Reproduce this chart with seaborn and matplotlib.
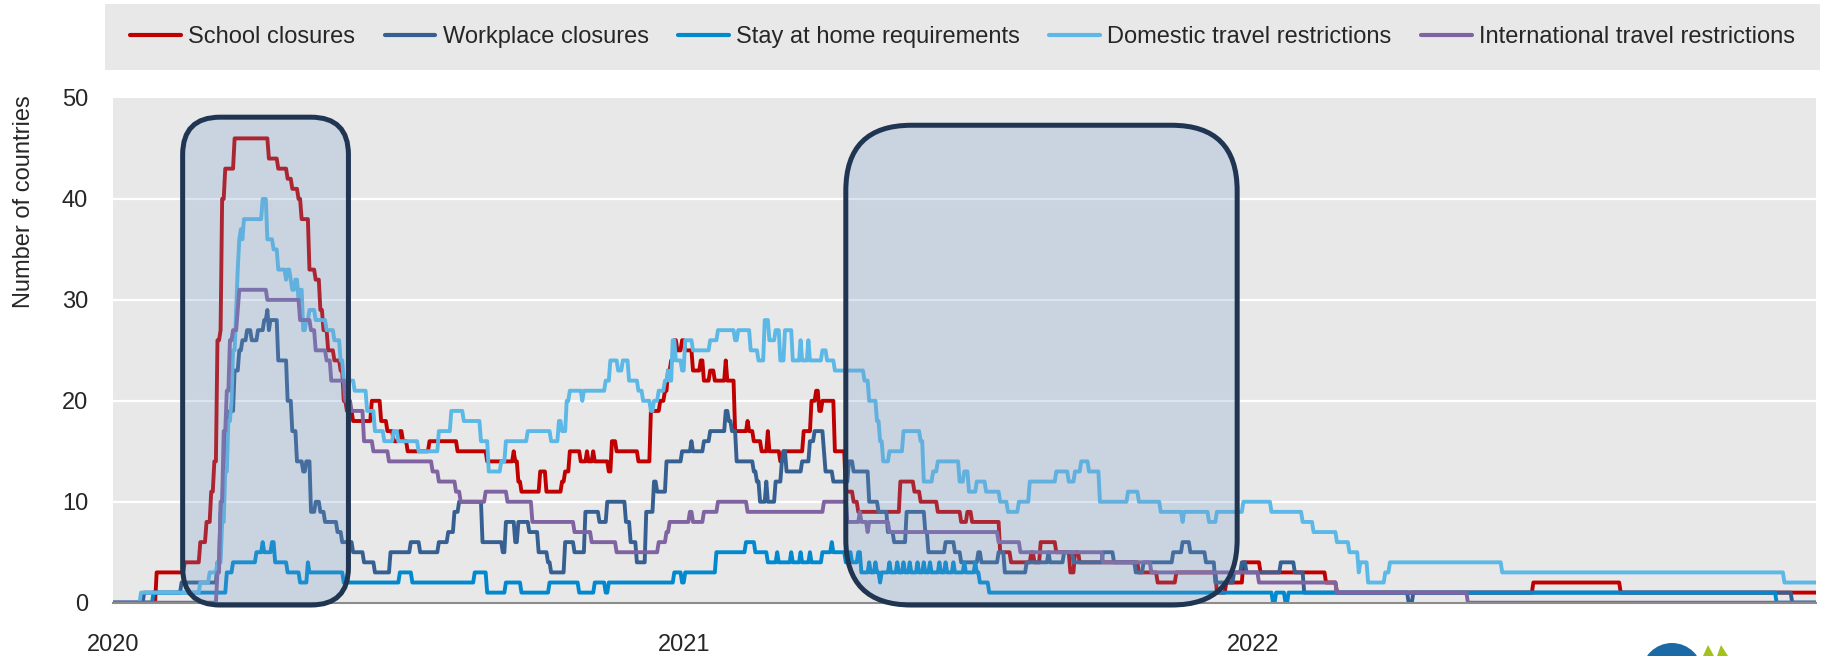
import numpy as np
import pandas as pd
import matplotlib
matplotlib.use("Agg")
import matplotlib.pyplot as plt
import matplotlib.dates as mdates
from matplotlib import font_manager
from matplotlib.lines import Line2D
from matplotlib.patches import FancyBboxPatch, Rectangle, Circle, Polygon
from matplotlib.transforms import IdentityTransform
import seaborn as sns

# ---------------------------------------------------------
# Data: (days since 2020-01-01, number of countries) change points
# ---------------------------------------------------------
START = pd.Timestamp("2020-01-01")

school = [
    (0, 0), (28, 3), (46, 4), (56, 6), (60, 8), (63, 11), (65, 14), (67, 26), (69, 27), (70, 40),
    (72, 43), (78, 46), (100, 44), (106, 43), (112, 42), (115, 41), (119, 40), (121, 38), (126, 33), (130, 32),
    (133, 29), (135, 27), (138, 25), (142, 24), (146, 23), (148, 20), (150, 19), (154, 18), (166, 20), (172, 18),
    (176, 17), (180, 16), (184, 17), (186, 16), (189, 15), (203, 16), (221, 15), (240, 14), (257, 15), (258, 14),
    (260, 12), (262, 11), (274, 13), (278, 11), (288, 12), (290, 13), (293, 15), (300, 14), (304, 15), (305, 14),
    (308, 15), (309, 14), (318, 13), (320, 16), (323, 15), (337, 14), (345, 19), (351, 20), (354, 21), (356, 23),
    (358, 24), (360, 26), (362, 25), (365, 26), (367, 25), (372, 23), (377, 24), (379, 22), (383, 23), (386, 22),
    (393, 24), (394, 22), (399, 17), (407, 18), (408, 17), (411, 16), (416, 15), (420, 17), (421, 15), (428, 14),
    (430, 15), (443, 17), (448, 20), (451, 21), (453, 19), (455, 20), (463, 15), (470, 11), (475, 10), (478, 9),
    (505, 12), (514, 11), (518, 10), (529, 9), (544, 8), (548, 9), (551, 8), (569, 5), (576, 4), (589, 5),
    (591, 4), (595, 6), (605, 5), (614, 3), (617, 5), (620, 4), (658, 3), (670, 2), (682, 3), (708, 1),
    (714, 2), (725, 4), (736, 3), (778, 2), (785, 1), (911, 2), (967, 1), (1095, 1),
]

workplace = [
    (0, 0), (20, 1), (44, 2), (67, 4), (69, 9), (71, 14), (73, 18), (75, 19), (78, 23), (81, 25),
    (83, 26), (86, 27), (89, 26), (93, 27), (97, 28), (99, 29), (100, 27), (101, 28), (106, 24), (112, 20),
    (115, 17), (118, 14), (122, 13), (124, 14), (127, 9), (130, 10), (133, 9), (136, 8), (144, 7), (147, 6),
    (154, 5), (161, 4), (168, 3), (178, 5), (191, 6), (197, 5), (209, 6), (215, 7), (219, 9), (222, 10),
    (237, 6), (250, 5), (252, 8), (258, 6), (260, 8), (267, 7), (273, 5), (279, 4), (281, 3), (290, 6),
    (296, 5), (303, 9), (312, 8), (317, 10), (329, 8), (332, 6), (336, 4), (342, 9), (347, 12), (349, 11),
    (355, 14), (365, 15), (371, 16), (372, 15), (379, 16), (383, 17), (393, 19), (395, 18), (397, 17), (400, 14),
    (411, 13), (413, 12), (415, 10), (419, 12), (420, 10), (425, 12), (429, 14), (430, 15), (432, 13), (442, 14),
    (447, 16), (450, 17), (456, 15), (457, 13), (462, 12), (472, 14), (475, 13), (485, 10), (491, 9), (497, 7),
    (501, 6), (509, 9), (521, 7), (523, 5), (534, 6), (540, 5), (544, 4), (555, 5), (557, 4), (568, 5),
    (572, 3), (586, 4), (600, 5), (601, 4), (610, 5), (616, 4), (635, 5), (642, 4), (656, 3), (661, 4),
    (680, 5), (686, 6), (691, 5), (701, 4), (707, 2), (719, 3), (724, 4), (727, 3), (749, 4), (758, 3),
    (764, 1), (831, 0), (834, 1), (1077, 0), (1095, 0),
]

stay_home = [
    (0, 0), (26, 1), (73, 3), (77, 4), (92, 5), (96, 6), (97, 5), (102, 6), (104, 4), (112, 3),
    (120, 2), (125, 4), (126, 3), (148, 2), (184, 3), (192, 2), (232, 3), (240, 1), (252, 2), (262, 1),
    (280, 2), (299, 1), (309, 2), (316, 1), (318, 2), (360, 3), (365, 2), (367, 3), (387, 5), (406, 6),
    (412, 5), (420, 4), (426, 5), (427, 4), (435, 5), (436, 4), (441, 5), (442, 4), (447, 5), (448, 4),
    (455, 5), (461, 6), (462, 5), (470, 4), (472, 5), (474, 4), (478, 5), (480, 3), (485, 4), (486, 3),
    (489, 4), (490, 3), (492, 2), (493, 3), (498, 4), (499, 3), (503, 4), (504, 3), (507, 4), (508, 3),
    (511, 4), (512, 3), (516, 4), (517, 3), (520, 4), (521, 3), (524, 4), (525, 3), (530, 4), (531, 3),
    (534, 4), (535, 3), (539, 4), (540, 3), (546, 4), (547, 3), (553, 4), (554, 3), (556, 2), (562, 1),
    (744, 0), (746, 1), (752, 0), (754, 1), (1067, 0), (1095, 0),
]

domestic = [
    (0, 0), (18, 1), (56, 2), (62, 3), (67, 4), (70, 8), (72, 13), (74, 18), (76, 20), (77, 25),
    (79, 29), (80, 33), (81, 36), (82, 37), (83, 36), (84, 38), (96, 40), (99, 36), (103, 35), (106, 33),
    (111, 32), (112, 33), (114, 32), (115, 31), (117, 32), (119, 30), (120, 31), (122, 27), (124, 28), (126, 29),
    (130, 28), (137, 27), (142, 26), (146, 24), (148, 22), (155, 21), (163, 19), (168, 17), (174, 16), (180, 17),
    (183, 16), (196, 15), (209, 17), (217, 19), (225, 18), (236, 16), (241, 13), (249, 14), (252, 16), (266, 17),
    (281, 16), (286, 18), (288, 17), (291, 20), (293, 21), (301, 20), (302, 21), (316, 22), (319, 24), (324, 23),
    (327, 24), (331, 22), (337, 21), (340, 20), (345, 19), (347, 20), (350, 21), (354, 22), (356, 23), (357, 22),
    (359, 26), (361, 24), (365, 23), (367, 26), (372, 25), (383, 26), (388, 27), (399, 26), (401, 27), (409, 25),
    (414, 24), (418, 28), (421, 26), (425, 27), (428, 24), (431, 27), (436, 24), (441, 26), (442, 24), (446, 26),
    (447, 24), (455, 25), (458, 24), (463, 23), (482, 22), (485, 20), (490, 18), (492, 16), (494, 14), (498, 15),
    (507, 17), (518, 16), (520, 12), (526, 13), (529, 14), (543, 12), (546, 13), (549, 11), (554, 12), (560, 11),
    (569, 10), (574, 9), (581, 10), (588, 12), (605, 13), (613, 12), (617, 13), (621, 14), (626, 13), (633, 10),
    (651, 11), (658, 10), (672, 9), (686, 8), (687, 9), (703, 8), (708, 9), (725, 10), (743, 9), (763, 8),
    (770, 7), (785, 6), (793, 5), (799, 3), (800, 4), (805, 2), (816, 3), (819, 4), (891, 3), (1072, 2),
    (1095, 2),
]

international = [
    (0, 0), (66, 0), (67, 3), (69, 10), (71, 17), (73, 21), (75, 26), (77, 27), (80, 29), (81, 31),
    (99, 30), (120, 28), (127, 27), (130, 25), (137, 24), (140, 22), (149, 20), (153, 19), (161, 16), (167, 15),
    (177, 14), (205, 13), (209, 12), (220, 11), (223, 10), (239, 11), (253, 10), (269, 8), (296, 7), (307, 6),
    (323, 5), (350, 6), (355, 7), (357, 8), (370, 9), (372, 8), (379, 9), (388, 10), (407, 9), (456, 10),
    (471, 8), (479, 9), (480, 8), (484, 7), (485, 8), (498, 7), (568, 6), (582, 5), (635, 4), (666, 3),
    (735, 2), (785, 1), (869, 0), (1095, 0),
]

measures = ["School closures", "Workplace closures", "Stay at home requirements",
            "Domestic travel restrictions", "International travel restrictions"]
colors = ["#C00000", "#376092", "#0089CF", "#5CB8E6", "#8064A2"]
year_ticks = ["2020-01-01", "2021-01-01", "2022-01-01"]
year_labels = ["2020", "2021", "2022"]

# highlighted periods: start, end, top value, corner radius in days
highlights = [("2020-02-14 16:00", "2020-05-31", 48.1, 24),
              ("2021-04-15", "2021-12-22", 47.3, 42)]


def daily(points):
    # turn change points into a daily step series
    days, vals = zip(*points)
    s = pd.Series(vals, index=list(days), dtype=float)
    s = s.reindex(range(days[-1] + 1)).ffill()
    s.index = START + pd.to_timedelta(s.index, unit="D")
    return s


frames = []
for name, pts in zip(measures, [school, workplace, stay_home, domestic, international]):
    s = daily(pts)
    frames.append(pd.DataFrame({"date": s.index, "countries": s.values, "measure": name}))
df = pd.concat(frames, ignore_index=True)

# ---------------------------------------------------------
# Style
# ---------------------------------------------------------
sns.set_style("white")
names = {f.name for f in font_manager.fontManager.ttflist}
if "Liberation Sans Narrow" in names:
    FONT, FS = "Liberation Sans Narrow", 20.5
else:
    FONT, FS = "Liberation Sans", 17
plt.rcParams["font.family"] = [FONT, "DejaVu Sans"]

W, H = 1825, 656
fig = plt.figure(figsize=(W / 100, H / 100), dpi=100)
ax = fig.add_axes([113 / W, 1 - 602.7 / H, (1816 - 113) / W, (602.7 - 98) / H])
ax.set_facecolor("#E8E8E8")

sns.lineplot(data=df, x="date", y="countries", hue="measure", hue_order=measures,
             palette=colors, estimator=None, linewidth=2.8, legend=False, ax=ax, zorder=3)

ax.set(xlabel="", ylabel="")
ax.set_ylim(0, 50)
ax.set_xlim(pd.Timestamp("2020-01-01"), pd.Timestamp("2022-12-28 06:00"))
for y in [10, 20, 30, 40]:
    ax.axhline(y, color="white", lw=1.6, zorder=1)
ax.set_yticks(range(0, 51, 10))
ax.set_xticks([pd.Timestamp(t) for t in year_ticks])
ax.set_xticklabels(year_labels)
ax.tick_params(axis="y", length=0, pad=18, labelsize=FS)
ax.tick_params(axis="x", direction="in", length=6, width=1.5, color="#8C8C8C", pad=22.5, labelsize=FS)
for side in ["left", "top", "right"]:
    ax.spines[side].set_visible(False)
ax.spines["bottom"].set_color("#8C8C8C")
ax.spines["bottom"].set_linewidth(1.5)
ax.spines["bottom"].set_zorder(4)

fig.text(24 / W, 1 - 95 / H, "Number of countries", rotation=90, ha="center", va="top", fontsize=FS)

# ---------------------------------------------------------
# Highlight boxes (rounded, drawn over the lines)
# ---------------------------------------------------------
x0n = mdates.date2num(pd.Timestamp("2020-01-01"))
p0 = ax.transData.transform((x0n, 0))
p1 = ax.transData.transform((x0n + 1, 1))
aspect = (p1[0] - p0[0]) / (p1[1] - p0[1])
for start, end, top, radius in highlights:
    xs = mdates.date2num(pd.Timestamp(start))
    xe = mdates.date2num(pd.Timestamp(end))
    box = FancyBboxPatch((xs, -0.23), xe - xs, top + 0.23,
                         boxstyle=f"round,pad=0,rounding_size={radius}",
                         mutation_aspect=aspect, facecolor=(0.44, 0.60, 0.79, 0.25),
                         edgecolor="#1F3552", linewidth=3.6, zorder=6, clip_on=False)
    ax.add_patch(box)

# ---------------------------------------------------------
# Legend on a grey band
# ---------------------------------------------------------
fig.add_artist(Rectangle((105 / W, 1 - 70 / H), 1715 / W, 66 / H, transform=fig.transFigure,
                         facecolor="#E8E8E8", edgecolor="none", zorder=0))
handles = [Line2D([], [], color=c, lw=3) for c in colors]
fig.legend(handles, measures, ncol=5, frameon=False, loc="center",
           bbox_to_anchor=((105 + 1820) / 2 / W, 1 - 37 / H), fontsize=FS,
           handlelength=2.15, handletextpad=0.3, columnspacing=1.25, borderaxespad=0)

# partly visible logo in the corner
fig.add_artist(Circle((1672, H - 673.5), 30.5, transform=IdentityTransform(),
                      facecolor="#1B6AA5", edgecolor="none"))
fig.add_artist(Polygon([(1703, 0), (1708, H - 645), (1714, 0)], closed=True,
                       transform=IdentityTransform(), facecolor="#A4C21F", edgecolor="none"))
fig.add_artist(Polygon([(1717, 0), (1721, H - 645), (1728, 0)], closed=True,
                       transform=IdentityTransform(), facecolor="#A4C21F", edgecolor="none"))

fig.savefig("out.png", dpi=100)
